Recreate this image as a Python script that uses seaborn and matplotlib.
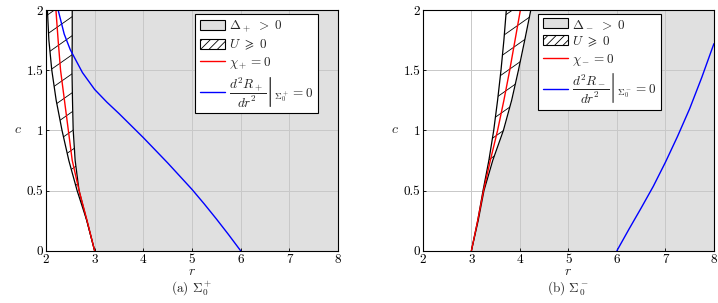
import numpy as np
import matplotlib
matplotlib.use("Agg")
import matplotlib.pyplot as plt
from matplotlib.patches import Patch
from matplotlib.lines import Line2D
from matplotlib.collections import LineCollection
import seaborn as sns

# ==================== Data ====================
C_GRID = [0.0, 0.25, 0.5, 0.75, 1.0, 1.25, 1.5, 1.75, 2.0]

# panel (a): Sigma_0^+
PLUS_U_LEFT = [3.0, 2.84, 2.64, 2.47, 2.33, 2.21, 2.12, 2.06, 2.03]
PLUS_U_RIGHT = [3.0, 2.84, 2.68, 2.60, 2.56, 2.545, 2.535, 2.54, 2.54]
PLUS_CHI = [3.0, 2.845, 2.68, 2.54, 2.46, 2.38, 2.30, 2.25, 2.205]
PLUS_D2R_R = [6.0, 5.75, 5.5, 5.25, 5.0, 4.75, 4.5, 4.25, 4.0, 3.75, 3.5, 3.25, 3.0,
              2.75, 2.5, 2.375, 2.25]
PLUS_D2R_C = [0.0, 0.135, 0.265, 0.39, 0.51, 0.62, 0.73, 0.835, 0.94, 1.04, 1.14, 1.235,
              1.34, 1.48, 1.67, 1.80, 2.0]

# panel (b): Sigma_0^-
MINUS_U_LEFT = [3.0, 3.13, 3.24, 3.36, 3.46, 3.54, 3.61, 3.67, 3.72]
MINUS_U_RIGHT = [3.0, 3.14, 3.26, 3.44, 3.66, 3.83, 3.97, 4.10, 4.225]
MINUS_CHI = [3.0, 3.13, 3.25, 3.39, 3.54, 3.67, 3.79, 3.90, 4.01]
MINUS_D2R_R = [6.0, 6.25, 6.5, 6.75, 7.0, 7.25, 7.5, 7.75, 8.0]
MINUS_D2R_C = [0.0, 0.18, 0.355, 0.535, 0.735, 0.95, 1.18, 1.44, 1.72]

X_TICKS = [2, 3, 4, 5, 6, 7, 8]
Y_TICKS = [0, 0.5, 1, 1.5, 2]
Y_TICKLABELS = ["0", "0.5", "1", "1.5", "2"]

# ==================== Plot Settings ====================
sns.set_theme(style="whitegrid")
plt.rcParams.update({
    "font.family": "serif", "font.serif": ["cmr10"],
    "mathtext.fontset": "cm", "axes.formatter.use_mathtext": True,
    "axes.unicode_minus": False, "font.size": 9.5,
    "axes.edgecolor": "black", "axes.linewidth": 0.8,
    "grid.color": "#c8c8c8", "grid.linewidth": 0.7,
    "xtick.direction": "in", "ytick.direction": "in",
    "xtick.bottom": True, "ytick.left": True,
    "xtick.major.size": 2.5, "ytick.major.size": 2.5,
    "xtick.major.width": 0.6, "ytick.major.width": 0.6,
    "xtick.color": "black", "ytick.color": "black",
    "hatch.linewidth": 0.6,
})

GRAY = "#e0e0e0"
HATCH_SLOPE = 0.85   # in axes units (~35 deg on screen)
HATCH_STEP = 0.079   # vertical spacing, axes units

panels = [
    dict(rect=[0.064, 0.1725, 0.4067, 0.7945], u_left=PLUS_U_LEFT, u_right=PLUS_U_RIGHT,
         chi=PLUS_CHI, d2r_r=PLUS_D2R_R, d2r_c=PLUS_D2R_C, sign="+",
         leg_x=0.932, cap_x=0.267, cap="(a) $\\Sigma_0^+$"),
    dict(rect=[0.589, 0.1725, 0.4053, 0.7945], u_left=MINUS_U_LEFT, u_right=MINUS_U_RIGHT,
         chi=MINUS_CHI, d2r_r=MINUS_D2R_R, d2r_c=MINUS_D2R_C, sign="-",
         leg_x=0.818, cap_x=0.791, cap="(b) $\\Sigma_0^-$"),
]

fig = plt.figure(figsize=(7.18, 3.03), dpi=100)

for p in panels:
    ax = fig.add_axes(p["rect"])
    ax.set_axisbelow("line")
    s = p["sign"]

    # Delta > 0 region (right of the U >= 0 band)
    ax.fill_betweenx(C_GRID, p["u_right"], 8, color=GRAY, linewidth=0, zorder=1)
    # U >= 0 band: white fill + sparse diagonal hatch clipped to it
    band = ax.fill_betweenx(C_GRID, p["u_left"], p["u_right"], facecolor="white",
                            linewidth=0, zorder=2)
    segs = [[(0, b), (1, b + HATCH_SLOPE)] for b in np.arange(-1.0, 1.05, HATCH_STEP)]
    lc = LineCollection(segs, colors="black", linewidths=0.6,
                        transform=ax.transAxes, zorder=2.5)
    ax.add_collection(lc, autolim=False)
    lc.set_clip_path(band.get_paths()[0], ax.transData)
    ax.plot(p["u_left"], C_GRID, color="black", lw=0.9, zorder=3)
    ax.plot(p["u_right"], C_GRID, color="black", lw=0.9, zorder=3)

    sns.lineplot(x=p["chi"], y=C_GRID, sort=False, estimator=None,
                 color="red", lw=1.0, ax=ax, zorder=4)
    sns.lineplot(x=p["d2r_r"], y=p["d2r_c"], sort=False, estimator=None,
                 color="blue", lw=1.0, ax=ax, zorder=4)

    ax.set_xlim(2, 8)
    ax.set_ylim(0, 2)
    ax.set_xticks(X_TICKS)
    ax.set_yticks(Y_TICKS)
    ax.set_xticklabels([str(t) for t in X_TICKS])
    ax.set_yticklabels(Y_TICKLABELS)
    ax.tick_params(labelsize=9.5, pad=2)
    ax.grid(True, color="#c8c8c8", lw=0.7)
    ax.set_xlabel("$r$", fontsize=10, labelpad=0)
    ax.set_ylabel("$c$", fontsize=10, rotation=0, labelpad=6, va="center")
    for spine in ax.spines.values():
        spine.set_visible(True)
        spine.set_color("black")
        spine.set_zorder(5)

    handles = [
        Patch(facecolor=GRAY, edgecolor="black", linewidth=0.8),
        Patch(facecolor="white", edgecolor="black", hatch="////", linewidth=0.8),
        Line2D([], [], color="red", lw=1.0),
        Line2D([], [], color="blue", lw=1.0),
    ]
    labels = [
        "$\\Delta_%s\\ >\\ 0$" % s,
        "$U\\ \\geqslant\\ 0$",
        "$\\chi_%s = 0$" % s,
        "$\\left.\\dfrac{d^2R_%s}{dr^2}\\right|_{\\Sigma_0^%s} = 0$" % (s, s),
    ]
    leg = ax.legend(handles, labels, loc="upper right", bbox_to_anchor=(p["leg_x"], 0.985),
                    borderaxespad=0, frameon=True, fancybox=False, framealpha=1,
                    edgecolor="black", fontsize=9.5, handlelength=1.9, handleheight=0.8,
                    handletextpad=0.3, labelspacing=0.25, borderpad=0.35)
    leg.get_frame().set_linewidth(0.8)
    leg.set_zorder(10)

    fig.text(p["cap_x"], 0.05, p["cap"], ha="center", va="center", fontsize=9.5)

fig.savefig("out.png", dpi=100)
